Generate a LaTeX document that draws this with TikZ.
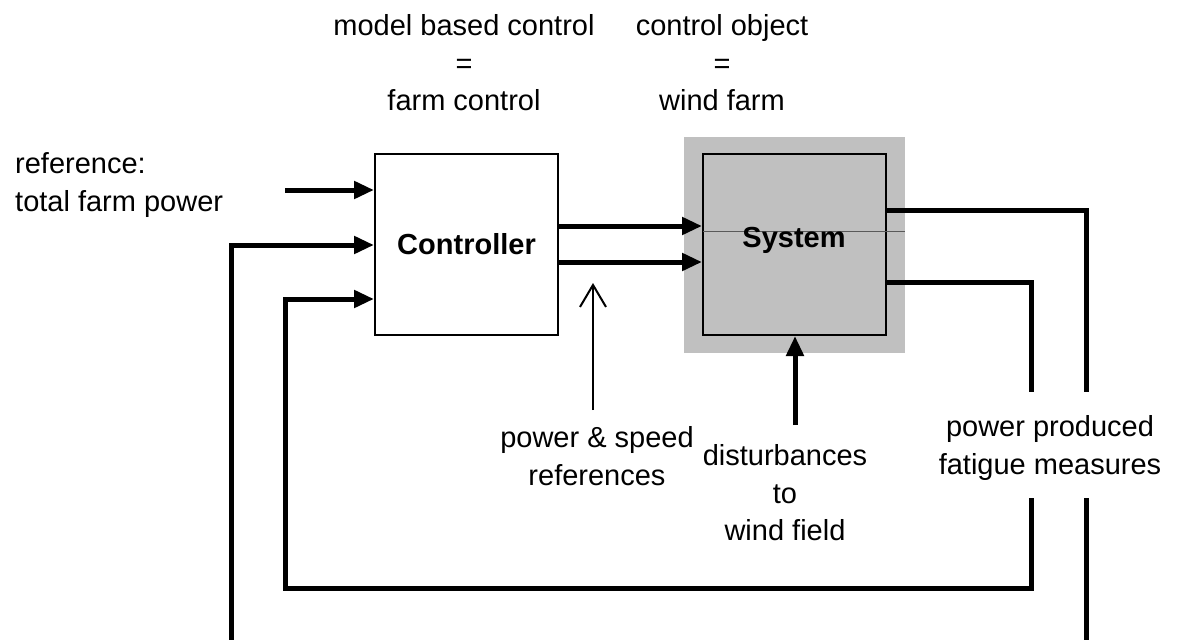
\documentclass[tikz,border=0pt]{standalone}
\usepackage{fontspec}
\setmainfont{Liberation Sans}
\usetikzlibrary{arrows.meta}
\definecolor{sysgray}{RGB}{192,192,192}
\tikzset{
  blockbox/.style={draw=black, line width=2pt, minimum width=183pt, minimum height=181pt, inner sep=0pt, font=\fontsize{29}{37.5}\selectfont\bfseries},
  thickline/.style={line width=5pt, line join=miter},
  thickarrow/.style={thickline, -{Triangle[length=20pt,width=17pt]}},
  thinarrow/.style={line width=2pt, -{Straight Barb[length=22pt,width=26pt,line width=2pt]}},
  lbl/.style={align=center, inner sep=0pt}
}
\begin{document}
\begin{tikzpicture}[x=1pt,y=-1pt, font=\fontsize{29}{37.5}\selectfont]
\useasboundingbox (0,0) rectangle (1184,640);
% gray background of the controlled system
\fill[sysgray] (684,137) rectangle (905,353);
\node[blockbox, fill=white] (ctrl) at (466.5,244.5) {Controller};
\node[blockbox, fill=sysgray] (sys) at (794.5,244.5) {};
\draw[gray!70!black, line width=1pt] (703,231) -- (905,231);
\node at (794,240) (systxt) {\bfseries System};
% top labels
\node[lbl] (mbc) at (464,63) {model based control\\=\\farm control};
\node[lbl] (cob) at (722,63) {control object\\=\\wind farm};
% reference input
\node[lbl, align=left, anchor=west] (ref) at (15,185) {reference:\\total farm power};
\coordinate (refstart) at (285,190);
\draw[thickarrow] (refstart) -- (ctrl.west |- refstart);
% controller outputs
\coordinate (o1) at (558,226);
\coordinate (o2) at (558,262);
\draw[thickarrow] (ctrl.east |- o1) -- (sys.west |- o1);
\draw[thickarrow] (ctrl.east |- o2) -- (sys.west |- o2);
% power & speed references
\node[lbl] (psr) at (597,456) {power \& speed\\references};
\coordinate (psrbot) at (593,410);
\coordinate (psrtop) at (593,283);
\draw[thinarrow] (psrbot) -- (psrtop);
% disturbances
\node[lbl] (dist) at (785,493) {disturbances\\to\\wind field};
\coordinate (distbot) at (795,425);
\draw[thickarrow] (distbot) -- (sys.south -| distbot);
% measured outputs
\node[lbl] (meas) at (1050,448) {power produced\\fatigue measures};
\coordinate (a1) at (886,210);
\coordinate (a2) at (1086,392);
\coordinate (a3) at (1086,498);
\coordinate (a4) at (1086,645);
\coordinate (b1) at (886,282);
\coordinate (b2) at (1031,392);
\coordinate (b3) at (1031,498);
\coordinate (b4) at (1031,588);
\coordinate (c1) at (285,588);
\coordinate (c2) at (285,299);
\coordinate (d1) at (231,645);
\coordinate (d2) at (231,245);
\draw[thickline] (sys.east |- a1) -| (a2);
\draw[thickline] (sys.east |- b1) -| (b2);
\draw[thickline] (a3) -- (a4);
\draw[thickarrow] (b3) |- (c1) -- (c2) -- (ctrl.west |- c2);
\draw[thickarrow] (d1) -- (d2) -- (ctrl.west |- d2);
\end{tikzpicture}
\end{document}
